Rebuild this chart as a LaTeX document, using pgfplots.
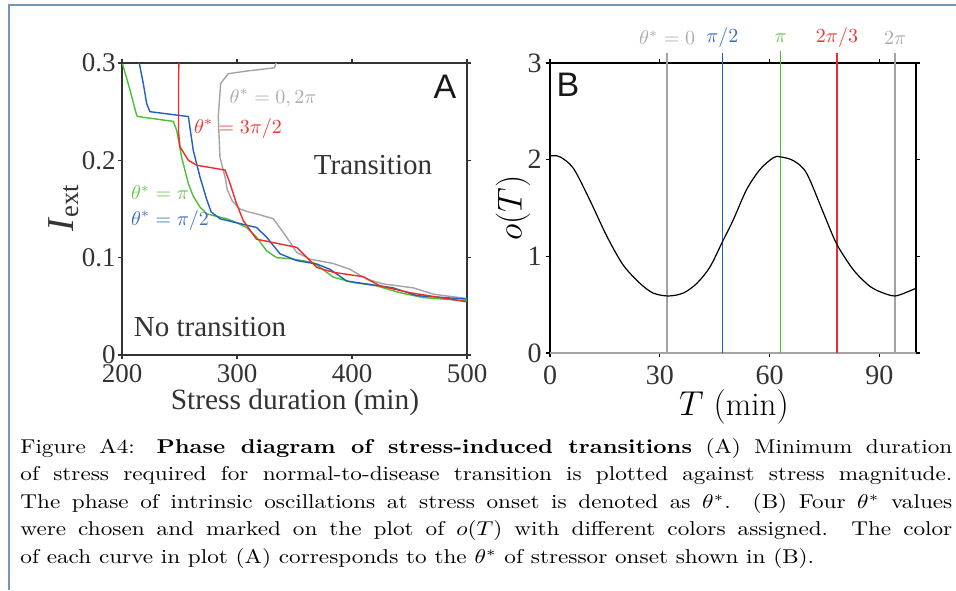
\documentclass[border=0pt]{standalone}
\usepackage{fontspec}
\usepackage{graphicx}
\usepackage{pgfplots}
\pgfplotsset{compat=1.18}
\newfontfamily\timesf{Liberation Serif}
\newfontfamily\sansf{Liberation Sans}
\definecolor{cgray}{HTML}{A3A3A3}
\definecolor{cgrayt}{HTML}{ABABAB}
\definecolor{cblue}{HTML}{1F5FBF}
\definecolor{cbluet}{HTML}{3A6CC4}
\definecolor{cgreen}{HTML}{4DBE33}
\definecolor{cgreent}{HTML}{6CC24E}
\definecolor{cred}{HTML}{F02A2A}
\definecolor{credt}{HTML}{EE3434}
\definecolor{frame}{HTML}{7A94B8}
\definecolor{axc}{HTML}{333333}
\begin{document}
\begin{tikzpicture}
\path[use as bounding box] (0,0) rectangle (478pt,-295pt);
\draw[frame, line width=0.6pt] (4.5pt,-295pt) -- (4.5pt,-2.5pt) -- (478pt,-2.5pt);
% Panel A
\begin{axis}[
  at={(61pt,-177.5pt)}, anchor=south west,
  scale only axis, width=172.5pt, height=146pt,
  xmin=200, xmax=500, ymin=0, ymax=0.3,
  xtick={200,300,400,500}, xticklabels={200,300,400,500},
  ytick={0,0.1,0.2,0.3}, yticklabels={0,0.1,0.2,0.3},
  tick align=outside, major tick length=2pt,
  every tick/.style={axc, line width=0.6pt},
  axis line style={axc, line width=0.7pt},
  tick label style={font=\timesf\fontsize{13.5}{14}\selectfont, text=axc},
  yticklabel style={inner sep=1pt},
  xticklabel style={inner sep=1pt, yshift=-1.5pt},
  clip=false,
]
\addplot[cgray, line width=0.7pt] coordinates {(334,0.300) (332.5,0.295) (310,0.292) (292.4,0.289) (285.8,0.279) (283.7,0.245) (285.2,0.203) (289.6,0.183) (291.5,0.170) (296,0.158) (302.6,0.150) (310,0.147) (317,0.145) (331.6,0.140) (343.2,0.121) (351.9,0.1055) (363.5,0.0985) (383.8,0.094) (398.3,0.088) (412.8,0.078) (427.2,0.073) (453.3,0.069) (470.7,0.0625) (500,0.058)};
\addplot[cgreen, line width=0.7pt] coordinates {(200.5,0.299) (207,0.272) (212.8,0.246) (214,0.245) (244.6,0.240) (247.5,0.231) (251.9,0.203) (257.7,0.176) (262,0.163) (267.8,0.152) (273.6,0.145) (291,0.140) (299.7,0.136) (308.4,0.131) (317,0.121) (325.8,0.107) (334.5,0.100) (346,0.099) (366.4,0.095) (383.8,0.080) (401,0.0745) (421.5,0.071) (441.7,0.064) (462,0.059) (500,0.0557)};
\addplot[cblue, line width=0.7pt] coordinates {(215,0.300) (218.5,0.279) (221.5,0.258) (224.3,0.250) (257.7,0.245) (262,0.210) (267.8,0.183) (273.6,0.160) (277.5,0.147) (285.2,0.140) (302.6,0.135) (317,0.131) (325.8,0.121) (337.4,0.104) (351.9,0.097) (369.3,0.0935) (380.9,0.088) (395.4,0.076) (409.8,0.0735) (435.9,0.069) (456.3,0.061) (500,0.0574)};
\addplot[cred, line width=0.7pt] coordinates {(249.5,0.300) (249.1,0.280) (249.1,0.230) (250.4,0.214) (257.7,0.200) (265,0.195) (289.6,0.190) (294,0.176) (299.7,0.155) (305.5,0.138) (317,0.119) (351.9,0.1106) (369.3,0.090) (383.8,0.085) (409.8,0.0804) (424.3,0.071) (450.4,0.064) (500,0.0546)};
\end{axis}
% Panel B
\begin{axis}[
  at={(275pt,-176.5pt)}, anchor=south west,
  scale only axis, width=183pt, height=145pt,
  xmin=0, xmax=100, ymin=0, ymax=3,
  xtick={0,30,60,90}, xticklabels={0,30,60,90},
  ytick={0,1,2,3}, yticklabels={0,1,2,3},
  tick align=outside, major tick length=2pt,
  every tick/.style={black, line width=0.6pt},
  axis line style={black, line width=0.7pt},
  tick label style={font=\timesf\fontsize{14}{15}\selectfont, text=axc},
  yticklabel style={inner sep=2pt},
  xticklabel style={inner sep=1pt, yshift=-3pt},
  clip=false,
]
\addplot[cgray, line width=0.8pt] coordinates {(0,0) (100,0)};
\addplot[cgray, line width=0.8pt] coordinates {(32,0) (32,3.1)};
\addplot[cblue, line width=0.8pt] coordinates {(47.1,0) (47.1,3.1)};
\addplot[cgreen, line width=0.8pt] coordinates {(63,0) (63,3.12)};
\addplot[cred, line width=0.8pt] coordinates {(78.4,0) (78.4,3.1)};
\addplot[cgray, line width=0.8pt] coordinates {(94.3,0) (94.3,3.1)};
\addplot[black, line width=0.6pt, smooth] coordinates {(0.3,2.04) (2.7,2.03) (6.4,1.91) (10.9,1.58) (15.5,1.21) (20,0.91) (24.6,0.72) (28.2,0.62) (32.3,0.59) (36.4,0.62) (40.1,0.72) (43.7,0.89) (47.1,1.15) (50.1,1.38) (53.7,1.69) (57.4,1.90) (61,2.02) (62.8,2.03) (66.5,1.99) (70.1,1.86) (74.7,1.45) (78.3,1.13) (82.9,0.86) (87.4,0.69) (91.1,0.62) (94.3,0.59) (97.5,0.63) (100,0.67)};
\node[text=cgrayt, font=\fontsize{10}{12}\selectfont] at (axis cs:32,3.26) {$\theta^*=0$};
\node[text=cbluet, font=\fontsize{10}{12}\selectfont] at (axis cs:47.1,3.26) {$\pi/2$};
\node[text=cgreent, font=\fontsize{10}{12}\selectfont] at (axis cs:63,3.26) {$\pi$};
\node[text=credt, font=\fontsize{10}{12}\selectfont] at (axis cs:78.4,3.26) {$2\pi/3$};
\node[text=cgrayt, font=\fontsize{10}{12}\selectfont] at (axis cs:94.3,3.26) {$2\pi$};
\end{axis}
\begin{scope}[x=0.5pt,y=-0.5pt]
\node[text=cgrayt, font=\fontsize{10}{12}\selectfont] at (273,98) {$\theta^*=0,2\pi$};
\node[text=credt, font=\fontsize{10}{12}\selectfont] at (238,128) {$\theta^*=3\pi/2$};
\node[text=cgreent, font=\fontsize{10}{12}\selectfont] at (160,193) {$\theta^*=\pi$};
\node[text=cbluet, font=\fontsize{10}{12}\selectfont] at (170,220) {$\theta^*=\pi/2$};
\node[text=axc, font=\timesf\fontsize{14.5}{16}\selectfont] at (373,165) {Transition};
\node[text=axc, font=\timesf\fontsize{14.5}{16}\selectfont] at (210,327) {No transition};
\node[text=black!90, font=\sansf\fontsize{17}{18}\selectfont] at (445,87) {A};
\node[text=black!90, font=\sansf\fontsize{17}{18}\selectfont] at (568,85) {B};
\node[text=axc, rotate=90, font=\timesf\fontsize{19}{20}\selectfont] at (64,208) {\textit{I}\textsubscript{ext}};
\node[text=axc, inner sep=0pt, font=\timesf\fontsize{14.7}{16}\selectfont] at (295,402) {Stress duration (min)};
\node[rotate=90, font=\fontsize{19}{20}\selectfont] at (513,208) {$o(T)$};
\node[inner sep=0pt, font=\fontsize{16.5}{18}\selectfont] at (734,407) {$T\ (\mathrm{min})$};
\node[anchor=north west, inner sep=0pt] at (20,438) {\scalebox{1.16}[1]{\parbox{401.7pt}{\fontsize{10}{13.75}\selectfont
Figure A4: \textbf{Phase diagram of stress-induced transitions} (A) Minimum duration\linebreak of stress required for normal-to-disease transition is plotted against stress magnitude.\linebreak The phase of intrinsic oscillations at stress onset is denoted as $\theta^*$. (B) Four $\theta^*$ values\linebreak were chosen and marked on the plot of $o(T)$ with different colors assigned. The color\linebreak of each curve in plot (A) corresponds to the $\theta^*$ of stressor onset shown in (B).}}};
\end{scope}
\end{tikzpicture}
\end{document}
